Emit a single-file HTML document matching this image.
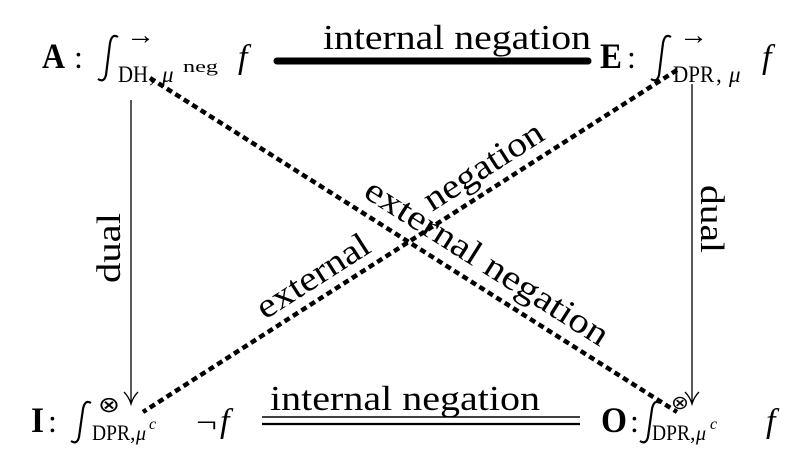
<!DOCTYPE html>
<html><head><meta charset="utf-8"><style>
html,body{margin:0;padding:0;background:#fff;}
svg{display:block;}
text{font-family:"Liberation Serif",serif;fill:#000;}
</style></head><body>
<svg width="812" height="476" viewBox="0 0 812 476" xmlns="http://www.w3.org/2000/svg">
<!-- top row -->
<text x="42" y="68" font-size="36" font-weight="bold" textLength="23" lengthAdjust="spacingAndGlyphs">A</text>
<text x="74" y="68" font-size="32">:</text>
<path d="M118,37 Q112,33 110,43 L106,75 Q104,83 98,79" fill="none" stroke="#000" stroke-width="2.2"/>
<text x="126" y="44" font-size="28" textLength="29" lengthAdjust="spacingAndGlyphs">→</text>
<text x="118" y="82" font-size="23" textLength="30" lengthAdjust="spacingAndGlyphs">DH</text>
<text x="149" y="82" font-size="23">,</text>
<text x="162" y="82" font-size="23" font-style="italic">μ</text>
<text x="183" y="72" font-size="17" textLength="35" lengthAdjust="spacingAndGlyphs">neg</text>
<text x="238" y="68" font-size="34" font-style="italic">f</text>
<line x1="277" y1="61" x2="588" y2="61" stroke="#000" stroke-width="7" stroke-linecap="round"/>
<text x="323" y="49" font-size="35" textLength="268" lengthAdjust="spacingAndGlyphs">internal negation</text>
<text x="600" y="68" font-size="36" font-weight="bold" textLength="22" lengthAdjust="spacingAndGlyphs">E</text>
<text x="627" y="68" font-size="32">:</text>
<path d="M671,37 Q665,33 663,43 L659,75 Q657,83 651,79" fill="none" stroke="#000" stroke-width="2.2"/>
<text x="679" y="44" font-size="28" textLength="29" lengthAdjust="spacingAndGlyphs">→</text>
<text x="673" y="82" font-size="23" textLength="41" lengthAdjust="spacingAndGlyphs">DPR</text>
<text x="716" y="82" font-size="23">,</text>
<text x="729" y="82" font-size="23" font-style="italic">μ</text>
<text x="762" y="68" font-size="34" font-style="italic">f</text>

<!-- bottom row -->
<text x="31" y="432" font-size="36" font-weight="bold" textLength="13" lengthAdjust="spacingAndGlyphs">I</text>
<text x="48" y="432" font-size="32">:</text>
<path d="M91,403 Q85,399 83,409 L79,437 Q77,445 71,441" fill="none" stroke="#000" stroke-width="2.2"/>
<text x="98" y="412" font-size="22" textLength="22" lengthAdjust="spacingAndGlyphs">⊗</text>
<text x="92" y="440" font-size="22" textLength="38" lengthAdjust="spacingAndGlyphs">DPR</text>
<text x="130" y="440" font-size="22">,</text>
<text x="136" y="440" font-size="20" font-style="italic">μ</text>
<text x="149" y="429" font-size="16" font-style="italic">c</text>
<text x="196" y="432" font-size="30" textLength="21" lengthAdjust="spacingAndGlyphs">¬</text>
<text x="220" y="432" font-size="34" font-style="italic">f</text>
<line x1="262" y1="417" x2="580" y2="417" stroke="#000" stroke-width="1.6"/>
<line x1="262" y1="424" x2="580" y2="424" stroke="#000" stroke-width="2.2"/>
<text x="270" y="410" font-size="35" textLength="270" lengthAdjust="spacingAndGlyphs">internal negation</text>
<text x="601" y="432" font-size="36" font-weight="bold" textLength="26" lengthAdjust="spacingAndGlyphs">O</text>
<text x="630" y="432" font-size="32">:</text>
<path d="M660,403 Q654,399 652,409 L648,437 Q646,445 640,441" fill="none" stroke="#000" stroke-width="2.2"/>
<text x="671" y="409" font-size="19" textLength="18" lengthAdjust="spacingAndGlyphs">⊗</text>
<text x="652" y="440" font-size="22" textLength="38" lengthAdjust="spacingAndGlyphs">DPR</text>
<text x="690" y="440" font-size="22">,</text>
<text x="696" y="440" font-size="20" font-style="italic">μ</text>
<text x="710" y="429" font-size="16" font-style="italic">c</text>
<text x="766" y="432" font-size="34" font-style="italic">f</text>

<!-- vertical arrows -->
<line x1="131" y1="100" x2="131" y2="403" stroke="#000" stroke-width="1.3"/>
<path d="M124,392 Q129,397 131,404 Q133,397 138,392" fill="none" stroke="#000" stroke-width="1.3"/>
<line x1="692" y1="84" x2="692" y2="403" stroke="#000" stroke-width="1.3"/>
<path d="M685,392 Q690,397 692,404 Q694,397 699,392" fill="none" stroke="#000" stroke-width="1.3"/>
<text transform="translate(120,283) rotate(-90)" font-size="34" textLength="70" lengthAdjust="spacingAndGlyphs">dual</text>
<text transform="translate(701,185) rotate(90)" font-size="34" textLength="68" lengthAdjust="spacingAndGlyphs">dual</text>

<!-- diagonal dashed lines -->
<line x1="150" y1="78" x2="677" y2="412" stroke="#000" stroke-width="4.5" stroke-dasharray="6,4"/>
<line x1="677" y1="70" x2="143" y2="412" stroke="#000" stroke-width="4.5" stroke-dasharray="6,4"/>

<text transform="translate(362,196) rotate(32.4)" font-size="35" textLength="282" lengthAdjust="spacingAndGlyphs">external negation</text>
<text transform="translate(265,320) rotate(-32.6)" font-size="35" textLength="128" lengthAdjust="spacingAndGlyphs">external</text>
<text transform="translate(432,212) rotate(-32.6)" font-size="35" textLength="136" lengthAdjust="spacingAndGlyphs">negation</text>
</svg>
</body></html>
